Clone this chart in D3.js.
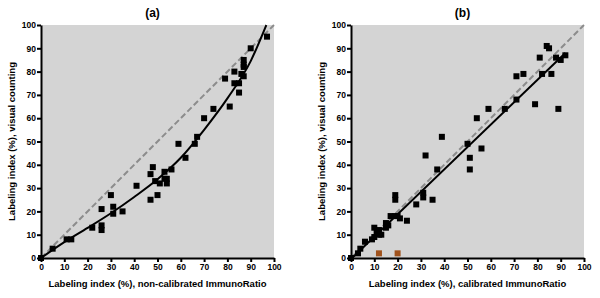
<!DOCTYPE html>
<html>
<head>
<meta charset="utf-8">
<script src="https://cdn.jsdelivr.net/npm/d3@7"></script>
<style>
  body { margin: 0; background: #fff; }
  text { font-family: "Liberation Sans", Arial, sans-serif; font-weight: bold; }
  .axis path, .axis line { stroke: #000; stroke-width: 2px; }
  .axis text { font-size: 8.5px; fill: #000; }
</style>
</head>
<body>
<svg id="chart" width="600" height="298"></svg>
<script>
const tickValues = [0, 10, 20, 30, 40, 50, 60, 70, 80, 90, 100];

// panel (a): non-calibrated ImmunoRatio vs visual counting
const pointsA = [[0,0],[5,4],[11,8],[13,8],[22,13],[26,21],[26,14],[26,12],[30,27],[31,22],[31,19],
  [35,20],[41,31],[47,36],[48,39],[47,25],[49,33],[50,27],[51,32],[53,37],[53,34],[54,34],[54,32],
  [56,38],[59,49],[62,43],[66,49],[67,52],[70,60],[74,64],[79,77],[81,65],[83,80],[83,75],[85,75],
  [85,71],[86,79],[87,85],[87,83],[87,82],[87,78],[90,90],[97,95]];
const fitA = [[0,0],[10,6.8],[20,12.9],[30,19.2],[40,26.2],[50,33.8],[60,43],[70,55],[80,68.5],[90,84.5],[96.7,100]];

// panel (b): calibrated ImmunoRatio vs visual counting
const pointsB = [[0,0],[3,2],[4,4],[6,7],[9,8],[10,9],[10,13],[11,11],[12,10],[12,12],[13,10],
  [15,13],[15,15],[16,14],[17,18],[19,27],[19,25],[19,18],[20,18],[21,17],[24,16],[28,23],[31,28],[31,26],
  [32,44],[35,25],[37,38],[39,52],[50,49],[51,43],[51,38],[54,60],[56,47],[59,64],[66,64],[71,78],
  [71,68],[74,79],[79,66],[81,86],[82,79],[84,91],[85,90],[86,79],[88,86],[89,64],[90,85],[92,87]];
const outliersB = [[12,2],[20,2]];
const fitB = [[0.5,0],[92,88]];
const identity = [[0,0],[100,100]];

const panels = [
  { title: '(a)', left: 41, points: pointsA, extra: [], fit: fitA, curve: d3.curveMonotoneX,
    xLabel: 'Labeling index (%), non-calibrated ImmunoRatio' },
  { title: '(b)', left: 351, points: pointsB, extra: outliersB, fit: fitB, curve: d3.curveLinear,
    xLabel: 'Labeling index (%), calibrated ImmunoRatio' }
];

const plotTop = 25, size = 233;
const svg = d3.select('#chart');

panels.forEach(p => {
  const g = svg.append('g').attr('transform', `translate(${p.left},${plotTop})`);
  const x = d3.scaleLinear().domain([0, 100]).range([0, size]);
  const y = d3.scaleLinear().domain([0, 100]).range([size, 0]);

  g.append('rect').attr('width', size).attr('height', size).attr('fill', '#d4d4d4');

  const line = d3.line().x(d => x(d[0])).y(d => y(d[1]));

  g.append('path')
    .datum(identity)
    .attr('d', line)
    .attr('fill', 'none')
    .attr('stroke', '#8c8c8c')
    .attr('stroke-width', 2)
    .attr('stroke-dasharray', '6,3');

  g.append('path')
    .datum(p.fit)
    .attr('d', line.curve(p.curve))
    .attr('fill', 'none')
    .attr('stroke', '#000')
    .attr('stroke-width', 2);

  g.append('g')
    .attr('class', 'axis')
    .attr('transform', `translate(0,${size})`)
    .call(d3.axisBottom(x).tickValues(tickValues).tickSize(4).tickSizeOuter(0).tickPadding(2));

  g.append('g')
    .attr('class', 'axis')
    .call(d3.axisLeft(y).tickValues(tickValues).tickSize(4).tickSizeOuter(0).tickPadding(1));

  g.selectAll('.dot')
    .data(p.points)
    .enter()
    .append('rect')
    .attr('x', d => x(d[0]) - 3)
    .attr('y', d => y(d[1]) - 3)
    .attr('width', 6)
    .attr('height', 6)
    .attr('fill', '#000');

  g.selectAll('.dot-extra')
    .data(p.extra)
    .enter()
    .append('rect')
    .attr('x', d => x(d[0]) - 3)
    .attr('y', d => y(d[1]) - 3)
    .attr('width', 6)
    .attr('height', 6)
    .attr('fill', '#a0521c');

  g.append('text')
    .attr('x', size / 2 - 5)
    .attr('y', -8)
    .attr('text-anchor', 'middle')
    .style('font-size', '12px')
    .text(p.title);

  g.append('text')
    .attr('x', size / 2)
    .attr('y', size + 29)
    .attr('text-anchor', 'middle')
    .style('font-size', '9.5px')
    .text(p.xLabel);

  g.append('text')
    .attr('transform', 'rotate(-90)')
    .attr('x', -size / 2)
    .attr('y', -26)
    .attr('text-anchor', 'middle')
    .style('font-size', '9.5px')
    .text('Labeling index (%), visual counting');
});
</script>
</body>
</html>
